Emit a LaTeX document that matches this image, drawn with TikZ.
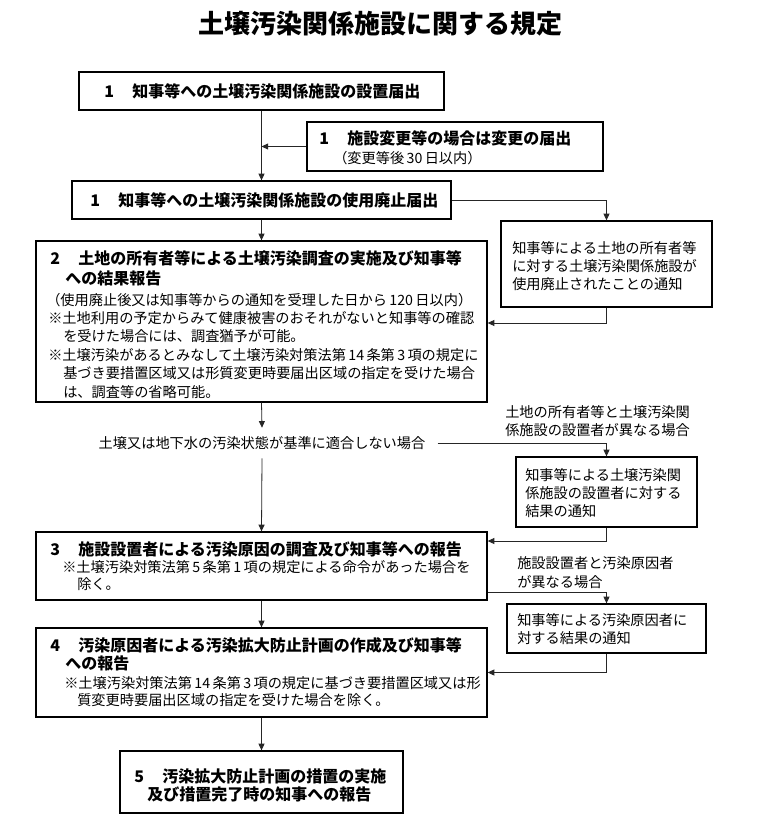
\documentclass[tikz,border=0pt]{standalone}
\usepackage{fontspec}
\newfontfamily\jp{Noto Sans CJK JP}
\usetikzlibrary{arrows.meta,fit}
\tikzset{
  boxst/.style={draw=black, line width=1pt, inner sep=0pt, rectangle},
  conn/.style={draw=black!85, line width=0.6pt, -{Triangle[length=5pt,width=4.5pt]}},
  plain/.style={draw=black!85, line width=0.6pt},
  sm/.style={inner sep=0pt, anchor=west, font=\jp\fontsize{10.65pt}{13pt}\selectfont},
  hd/.style={inner sep=0pt, anchor=west, font=\jp\bfseries\fontsize{12pt}{14pt}\selectfont},
  ttl/.style={inner sep=0pt, font=\jp\bfseries\fontsize{19.5pt}{22pt}\selectfont},
}
\begin{document}
\begin{tikzpicture}[x=0.75pt,y=-0.75pt]
\fill[white] (0,0) rectangle (758,820);
\useasboundingbox (0,0) rectangle (758,820);

% title
\node[ttl] (title) at (380,24) {土壌汚染関係施設に関する規定};

% boxes
\node[boxst, fit={(79,72) (444,110)}] (b1) {};
\node[boxst, fit={(307,122) (603,171)}] (bc) {};
\node[boxst, fit={(72,181) (451,219)}] (b1b) {};
\node[boxst, fit={(501,221) (712,307)}] (n1) {};
\node[boxst, fit={(36,241) (487,402)}] (b2) {};
\node[boxst, fit={(516,457) (697,527)}] (n2) {};
\node[boxst, fit={(36,532) (487,600)}] (b3) {};
\node[boxst, fit={(507,604) (706,653)}] (n3) {};
\node[boxst, fit={(36,628) (487,717)}] (b4) {};
\node[boxst, fit={(120,751) (403,813)}] (b5) {};

% box texts
\node[hd] (b1t) at (104,91) {1\hspace{1.15em}知事等への土壌汚染関係施設の設置届出};
\node[hd] (bct1) at (319,138) {1\hspace{1.15em}施設変更等の場合は変更の届出};
\node[sm] (bct2) at (333,158) {（変更等後\,30\,日以内）};
\node[hd] (b1bt) at (90,200) {1\hspace{1.15em}知事等への土壌汚染関係施設の使用廃止届出};

\node[sm] (n1t1) at (512,248) {知事等による土地の所有者等};
\node[sm] (n1t2) at (512,266) {に対する土壌汚染関係施設が};
\node[sm] (n1t3) at (512,284) {使用廃止されたことの通知};

\node[hd] (b2t1) at (50,258) {2\hspace{1.15em}土地の所有者等による土壌汚染調査の実施及び知事等};
\node[hd] (b2t2) at (65,278) {への結果報告};
\node[sm] (b2t3) at (46,300) {（使用廃止後又は知事等からの通知を受理した日から\,120\,日以内）};
\node[sm] (b2t4) at (48,318) {※土地利用の予定からみて健康被害のおそれがないと知事等の確認};
\node[sm] (b2t5) at (63,336) {を受けた場合には、調査猶予が可能。};
\node[sm] (b2t6) at (48,355) {※土壌汚染があるとみなして土壌汚染対策法第\,14\,条第\,3\,項の規定に};
\node[sm] (b2t7) at (63,373) {基づき要措置区域又は形質変更時要届出区域の指定を受けた場合};
\node[sm] (b2t8) at (63,392) {は、調査等の省略可能。};

\node[sm, anchor=center, minimum height={30*0.75pt}, inner xsep={12*0.75pt}] (cond) at (262,443) {土壌又は地下水の汚染状態が基準に適合しない場合};

\node[sm] (l1a) at (505,412) {土地の所有者等と土壌汚染関};
\node[sm] (l1b) at (505,430) {係施設の設置者が異なる場合};

\node[sm] (n2t1) at (525,475) {知事等による土壌汚染関};
\node[sm] (n2t2) at (525,493) {係施設の設置者に対する};
\node[sm] (n2t3) at (525,511) {結果の通知};

\node[hd] (b3t1) at (50,549) {3\hspace{1.15em}施設設置者による汚染原因の調査及び知事等への報告};
\node[sm] (b3t2) at (62,567) {※土壌汚染対策法第\,5\,条第\,1\,項の規定による命令があった場合を};
\node[sm] (b3t3) at (77,584) {除く。};

\node[sm] (l2a) at (517,563) {施設設置者と汚染原因者};
\node[sm] (l2b) at (517,582) {が異なる場合};

\node[sm] (n3t1) at (517,620) {知事等による汚染原因者に};
\node[sm] (n3t2) at (517,638) {対する結果の通知};

\node[hd] (b4t1) at (50,645) {4\hspace{1.15em}汚染原因者による汚染拡大防止計画の作成及び知事等};
\node[hd] (b4t2) at (65,663) {への報告};
\node[sm] (b4t3) at (64,683) {※土壌汚染対策法第\,14\,条第\,3\,項の規定に基づき要措置区域又は形};
\node[sm] (b4t4) at (77,700) {質変更時要届出区域の指定を受けた場合を除く。};

\node[hd] (b5t1) at (134,776) {5\hspace{1.15em}汚染拡大防止計画の措置の実施};
\node[hd] (b5t2) at (147,794) {及び措置完了時の知事への報告};

% helper coordinates
\coordinate (j1) at (606.5,323);
\coordinate (j2) at (606.5,541);
\coordinate (y592) at (0,592);

% connectors
\draw[conn] (b1.south) -- (b1b.north);
\draw[conn] (bc.west) -- (bc.west -| b1.south);
\draw[conn] (b1b.east) -| (n1.north);
\draw[conn] (n1.south) -- (j1) -- (j1 -| b2.east);
\draw[conn] (b1b.south) -- (b2.north);
\draw[conn] (b2.south) -- (cond.north);
\draw[conn] (cond.east) -| (n2.north);
\draw[conn] (cond.south) -- (b3.north);
\draw[conn] (n2.south) -- (j2) -- (j2 -| b3.east);
\draw[conn] (b3.east |- y592) -| (n3.north);
\draw[conn] (n3.south) |- (b4.east);
\draw[conn] (b3.south) -- (b4.north);
\draw[conn] (b4.south) -- (b5.north);
\end{tikzpicture}
\end{document}
